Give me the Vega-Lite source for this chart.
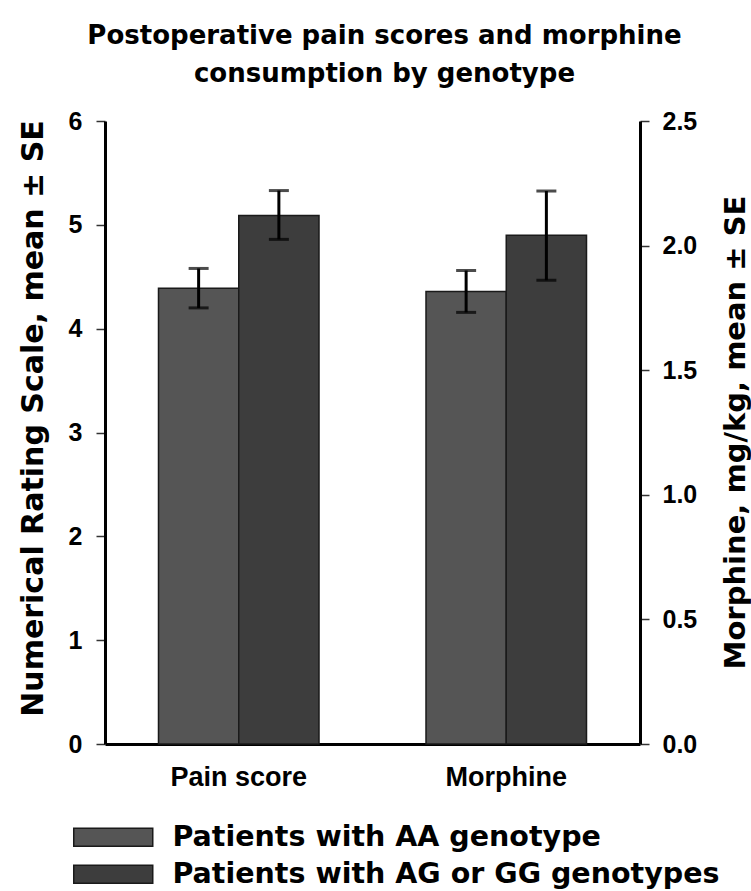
{
  "$schema": "https://vega.github.io/schema/vega-lite/v6.json",
  "autosize": {"type": "none"},
  "padding": {"left": 105, "top": 121, "right": 111, "bottom": 147},
  "width": 535,
  "height": 623,
  "background": "white",
  "title": {
    "text": ["Postoperative pain scores and morphine", "consumption by genotype"],
    "font": "DejaVu Sans",
    "fontSize": 26,
    "fontWeight": "bold",
    "color": "black",
    "lineHeight": 38,
    "anchor": "middle",
    "frame": "group",
    "dx": 12,
    "dy": -2,
    "offset": 20
  },
  "config": {
    "view": {"stroke": null},
    "axis": {"grid": false}
  },
  "data": {
    "values": [
      {"measure": "Pain score", "genotype": "Patients with AA genotype", "mean": 4.39, "lo": 4.2, "hi": 4.58},
      {"measure": "Pain score", "genotype": "Patients with AG or GG genotypes", "mean": 5.09, "lo": 4.86, "hi": 5.33},
      {"measure": "Morphine", "genotype": "Patients with AA genotype", "mean": 1.816, "lo": 1.732, "hi": 1.9},
      {"measure": "Morphine", "genotype": "Patients with AG or GG genotypes", "mean": 2.042, "lo": 1.861, "hi": 2.219}
    ]
  },
  "encoding": {
    "x": {
      "field": "measure",
      "type": "nominal",
      "scale": {"domain": ["Pain score", "Morphine"], "paddingInner": 0.4, "paddingOuter": 0.2},
      "axis": {
        "title": null,
        "labelAngle": 0,
        "ticks": false,
        "tickSize": 0,
        "domainColor": "black",
        "domainWidth": 3,
        "labelFont": "Liberation Sans, Arial, Helvetica, sans-serif",
        "labelFontWeight": "bold",
        "labelFontSize": 27,
        "labelColor": "black",
        "labelPadding": 20
      }
    },
    "xOffset": {
      "field": "genotype",
      "type": "nominal",
      "scale": {"domain": ["Patients with AA genotype", "Patients with AG or GG genotypes"], "paddingInner": 0, "paddingOuter": 0}
    }
  },
  "layer": [
    {
      "transform": [{"filter": "datum.measure === 'Pain score'"}],
      "layer": [
        {
          "mark": {"type": "bar", "stroke": "#1a1a1a", "strokeWidth": 1.5},
          "encoding": {
            "y": {
              "field": "mean",
              "type": "quantitative",
              "title": "Numerical Rating Scale, mean ± SE",
              "scale": {"domain": [0, 6], "nice": false},
              "axis": {
                "orient": "left",
                "values": [0, 1, 2, 3, 4, 5, 6],
                "format": "d",
                "domainColor": "black",
                "domainWidth": 3,
                "tickColor": "#333333",
                "tickWidth": 1.5,
                "tickSize": 9,
                "labelFont": "Liberation Sans, Arial, Helvetica, sans-serif",
                "labelFontWeight": "bold",
                "labelFontSize": 25,
                "labelColor": "black",
                "labelPadding": 14,
                "titleFont": "DejaVu Sans",
                "titleFontSize": 30,
                "titleFontWeight": "bold",
                "titleColor": "black",
                "titleAngle": 270,
                "titleAlign": "center",
                "titleBaseline": "alphabetic",
                "titleX": -63,
                "titleY": 297
              }
            },
            "color": {
              "field": "genotype",
              "type": "nominal",
              "scale": {"domain": ["Patients with AA genotype", "Patients with AG or GG genotypes"], "range": ["#555555", "#3d3d3d"]},
              "legend": {
                "orient": "none",
                "legendX": -6,
                "legendY": 702,
                "direction": "vertical",
                "title": null,
                "padding": 0,
                "symbolType": "M-4.389,-1H4.389V1H-4.389Z",
                "symbolSize": 324,
                "symbolStrokeColor": "#1a1a1a",
                "symbolStrokeWidth": 1.5,
                "symbolOpacity": 1,
                "labelFont": "DejaVu Sans",
                "labelFontWeight": "bold",
                "labelFontSize": 28.5,
                "labelColor": "black",
                "labelOffset": 45,
                "labelLimit": 1000,
                "rowPadding": 8
              }
            }
          }
        },
        {
          "mark": {"type": "rule", "color": "black", "strokeWidth": 3},
          "encoding": {
            "y": {"field": "lo", "type": "quantitative", "title": "Numerical Rating Scale, mean ± SE"},
            "y2": {"field": "hi"}
          }
        },
        {
          "mark": {"type": "tick", "color": "black", "thickness": 3, "size": 20, "orient": "horizontal"},
          "encoding": {"y": {"field": "lo", "type": "quantitative", "title": "Numerical Rating Scale, mean ± SE"}}
        },
        {
          "mark": {"type": "tick", "color": "black", "thickness": 3, "size": 20, "orient": "horizontal"},
          "encoding": {"y": {"field": "hi", "type": "quantitative", "title": "Numerical Rating Scale, mean ± SE"}}
        }
      ]
    },
    {
      "transform": [{"filter": "datum.measure === 'Morphine'"}],
      "layer": [
        {
          "mark": {"type": "bar", "stroke": "#1a1a1a", "strokeWidth": 1.5},
          "encoding": {
            "y": {
              "field": "mean",
              "type": "quantitative",
              "title": "Morphine, mg/kg, mean ± SE",
              "scale": {"domain": [0, 2.5], "nice": false},
              "axis": {
                "orient": "right",
                "values": [0, 0.5, 1, 1.5, 2, 2.5],
                "format": ".1f",
                "domainColor": "black",
                "domainWidth": 3,
                "tickColor": "#333333",
                "tickWidth": 1.5,
                "tickSize": 9,
                "labelFont": "Liberation Sans, Arial, Helvetica, sans-serif",
                "labelFontWeight": "bold",
                "labelFontSize": 25,
                "labelColor": "black",
                "labelPadding": 13,
                "titleFont": "DejaVu Sans",
                "titleFontSize": 29,
                "titleFontWeight": "bold",
                "titleColor": "black",
                "titleAngle": 270,
                "titleAlign": "center",
                "titleBaseline": "alphabetic",
                "titleX": 104,
                "titleY": 311
              }
            },
            "color": {
              "field": "genotype",
              "type": "nominal",
              "scale": {"domain": ["Patients with AA genotype", "Patients with AG or GG genotypes"], "range": ["#555555", "#3d3d3d"]}
            }
          }
        },
        {
          "mark": {"type": "rule", "color": "black", "strokeWidth": 3},
          "encoding": {
            "y": {"field": "lo", "type": "quantitative", "title": "Morphine, mg/kg, mean ± SE"},
            "y2": {"field": "hi"}
          }
        },
        {
          "mark": {"type": "tick", "color": "black", "thickness": 3, "size": 20, "orient": "horizontal"},
          "encoding": {"y": {"field": "lo", "type": "quantitative", "title": "Morphine, mg/kg, mean ± SE"}}
        },
        {
          "mark": {"type": "tick", "color": "black", "thickness": 3, "size": 20, "orient": "horizontal"},
          "encoding": {"y": {"field": "hi", "type": "quantitative", "title": "Morphine, mg/kg, mean ± SE"}}
        }
      ]
    }
  ],
  "resolve": {"scale": {"y": "independent"}}
}
